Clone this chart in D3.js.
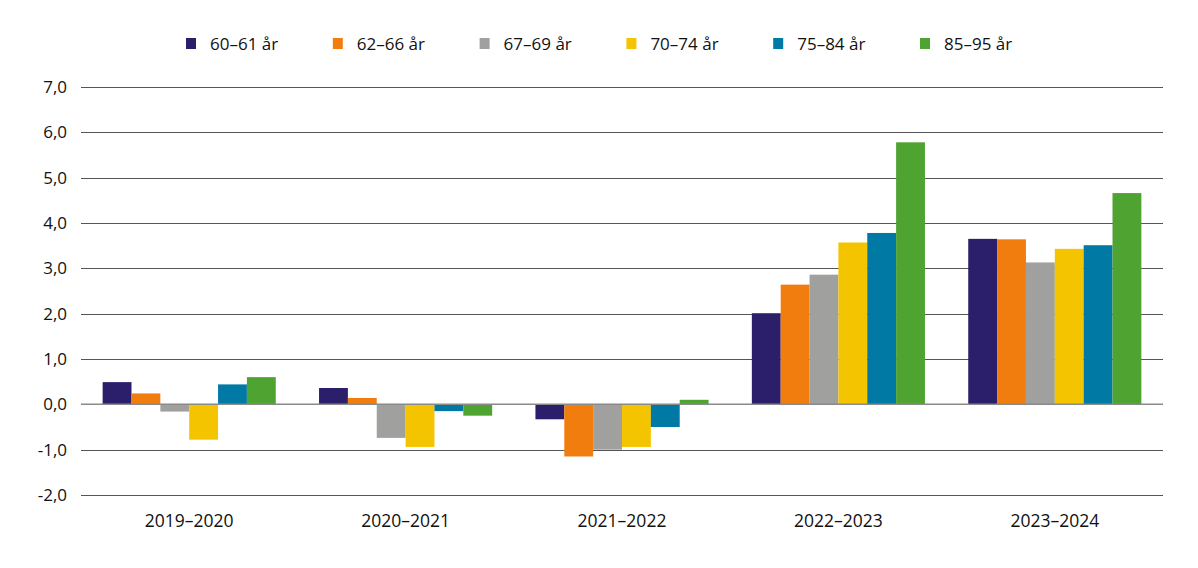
<!DOCTYPE html>
<html>
<head>
  <meta charset="utf-8">
  <script src="https://d3js.org/d3.v7.min.js"></script>
  <style>
    body { margin: 0; background: white; }
    text { font-family: 'Open Sans', sans-serif; fill: #111; }
  </style>
</head>
<body>
  <svg id="chart"></svg>
  <script>
    var width = 1198;
    var height = 568;

    var periods = ["2019–2020", "2020–2021", "2021–2022", "2022–2023", "2023–2024"];
    var groups = ["60–61 år", "62–66 år", "67–69 år", "70–74 år", "75–84 år", "85–95 år"];
    var colors = ["#2b1f6b", "#f07d0e", "#a0a09f", "#f5c400", "#007aa5", "#4ea331"];

    // one array per age group, values per period
    var v6061 = [0.49, 0.36, -0.33, 2.01, 3.65];
    var v6266 = [0.24, 0.14, -1.15, 2.64, 3.64];
    var v6769 = [-0.16, -0.74, -1.0, 2.86, 3.13];
    var v7074 = [-0.78, -0.94, -0.94, 3.57, 3.43];
    var v7584 = [0.44, -0.15, -0.50, 3.78, 3.51];
    var v8595 = [0.60, -0.25, 0.10, 5.78, 4.66];
    var series = [v6061, v6266, v6769, v7074, v7584, v8595];

    var yTicks = [-2, -1, 0, 1, 2, 3, 4, 5, 6, 7];

    var margin = { left: 81, right: 35, top: 87, bottom: 73 };

    var svg = d3.select("#chart").attr("width", width).attr("height", height);

    var x = d3.scaleBand().domain(periods)
      .range([margin.left, width - margin.right]);
    var xi = d3.scaleBand().domain(groups)
      .range([0, x.bandwidth()]).paddingOuter(0.75);
    var y = d3.scaleLinear().domain([-2, 7])
      .range([height - margin.bottom, margin.top]);

    // gridlines
    svg.append("g").selectAll("line")
      .data(yTicks)
      .enter().append("line")
      .attr("x1", margin.left)
      .attr("x2", width - margin.right)
      .attr("y1", d => Math.round(y(d)) + 0.5)
      .attr("y2", d => Math.round(y(d)) + 0.5)
      .attr("stroke", "#555")
      .attr("stroke-width", 1);

    // y labels
    svg.append("g").selectAll("text")
      .data(yTicks)
      .enter().append("text")
      .attr("x", 67)
      .attr("y", d => y(d) + 6)
      .attr("text-anchor", "end")
      .style("font-size", "17px")
      .text(d => d3.format(".1f")(d).replace(".", ",").replace("−", "-"));

    // bars
    var g = svg.append("g").selectAll("g")
      .data(series)
      .enter().append("g")
      .attr("fill", (d, i) => colors[i]);

    g.selectAll("rect")
      .data((d, i) => d.map((v, j) => ({ v: v, p: periods[j], grp: groups[i] })))
      .enter().append("rect")
      .attr("x", d => x(d.p) + xi(d.grp))
      .attr("width", xi.bandwidth())
      .attr("y", d => y(Math.max(0, d.v)))
      .attr("height", d => Math.abs(y(d.v) - y(0)));

    // zero line
    svg.append("line")
      .attr("x1", margin.left)
      .attr("x2", width - margin.right)
      .attr("y1", y(0))
      .attr("y2", y(0))
      .attr("stroke", "#8a8a8a")
      .attr("stroke-width", 1.5);

    // x labels
    svg.append("g").selectAll("text")
      .data(periods)
      .enter().append("text")
      .attr("x", d => x(d) + x.bandwidth() / 2)
      .attr("y", 527)
      .attr("text-anchor", "middle")
      .style("font-size", "17.5px")
      .text(d => d);

    // legend
    var legend = svg.append("g").selectAll("g")
      .data(groups)
      .enter().append("g")
      .attr("transform", (d, i) => `translate(${186 + i * 146.8},38)`);

    legend.append("rect")
      .attr("width", 10)
      .attr("height", 11)
      .attr("fill", (d, i) => colors[i]);

    legend.append("text")
      .attr("x", 24)
      .attr("y", 12)
      .style("font-size", "17px")
      .text(d => d);
  </script>
</body>
</html>
